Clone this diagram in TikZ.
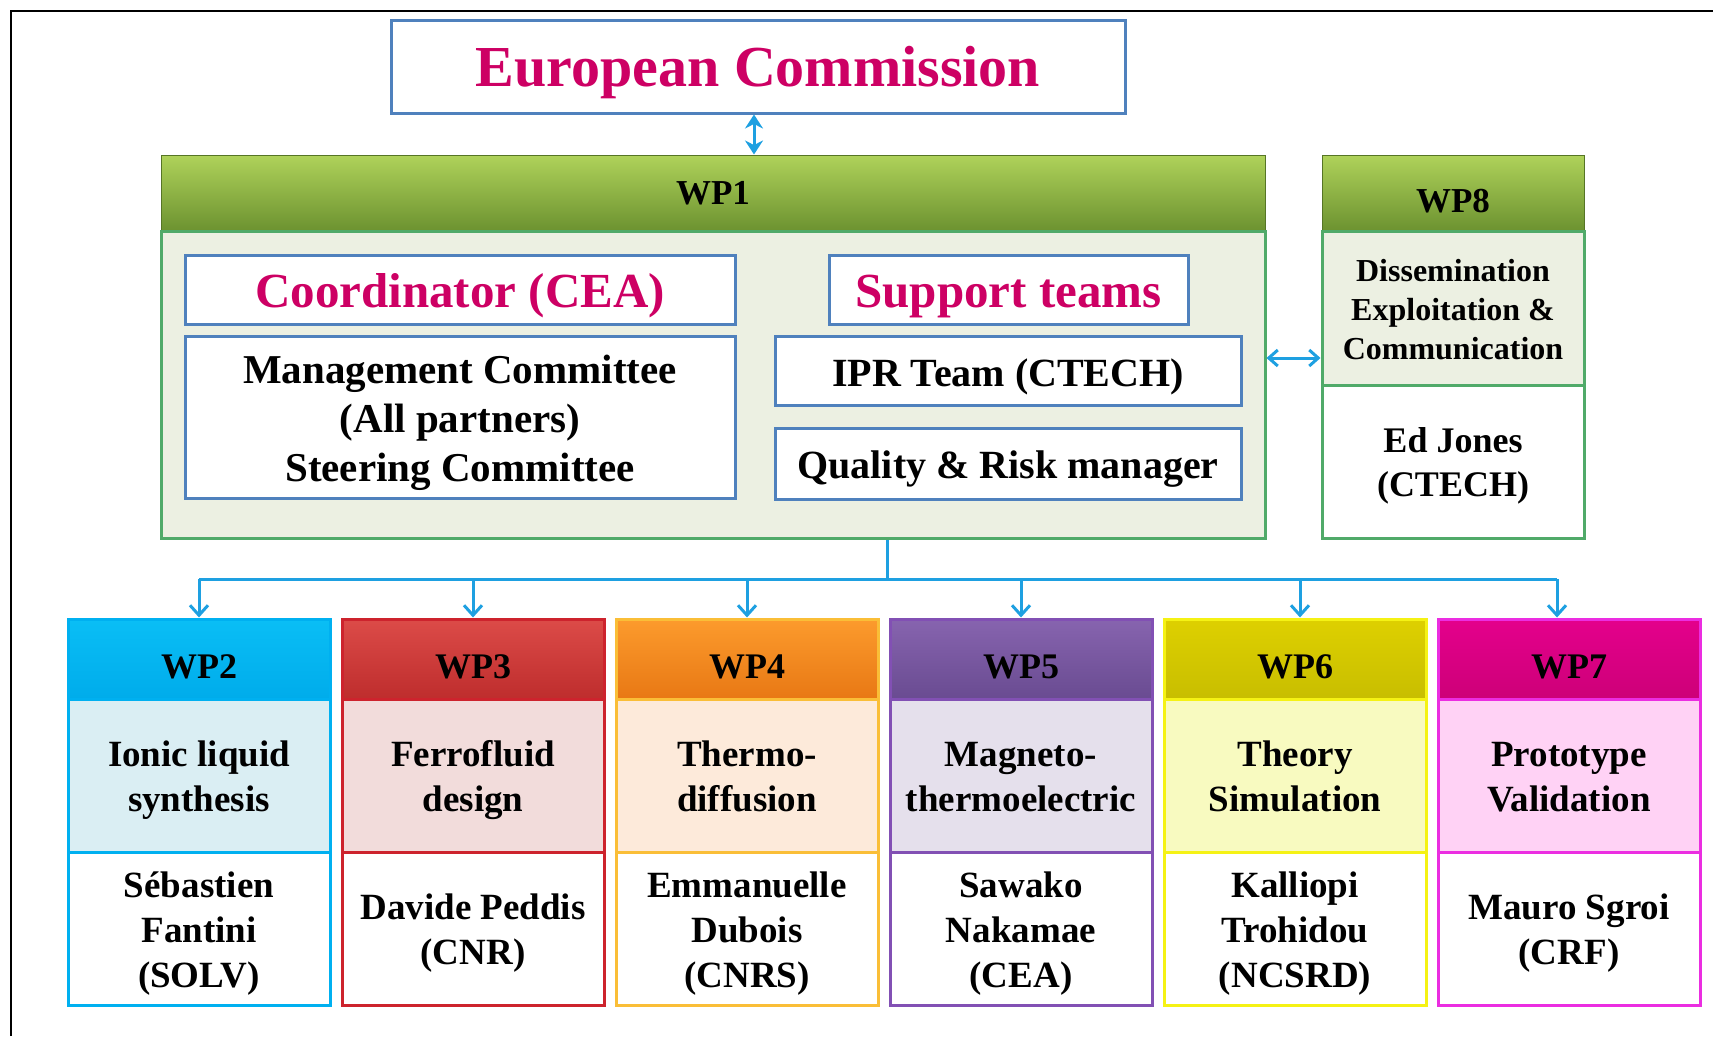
\documentclass[tikz,border=0pt]{standalone}
\usepackage{fontspec}
\setmainfont{Liberation Serif}
\usetikzlibrary{arrows.meta, positioning, calc}

\definecolor{ecred}{RGB}{205,0,100}
\definecolor{boxblue}{RGB}{79,129,189}
\definecolor{linkblue}{RGB}{30,160,225}
\definecolor{wpgreen}{RGB}{80,170,105}
\definecolor{wpbeige}{RGB}{236,240,226}
\definecolor{greentop}{RGB}{175,210,90}
\definecolor{greenbot}{RGB}{108,146,48}
% colonnes WP2..WP7
\definecolor{wp2top}{RGB}{10,190,245}   \definecolor{wp2bot}{RGB}{0,172,235}
\definecolor{wp2line}{RGB}{0,176,240}   \definecolor{wp2fill}{RGB}{218,238,243}
\definecolor{wp3top}{RGB}{220,75,72}    \definecolor{wp3bot}{RGB}{190,45,45}
\definecolor{wp3line}{RGB}{205,35,45}   \definecolor{wp3fill}{RGB}{242,220,219}
\definecolor{wp4top}{RGB}{252,155,45}   \definecolor{wp4bot}{RGB}{232,120,20}
\definecolor{wp4line}{RGB}{250,190,55}  \definecolor{wp4fill}{RGB}{253,234,218}
\definecolor{wp5top}{RGB}{135,100,175}  \definecolor{wp5bot}{RGB}{105,75,145}
\definecolor{wp5line}{RGB}{130,80,180}  \definecolor{wp5fill}{RGB}{229,224,236}
\definecolor{wp6top}{RGB}{222,208,0}    \definecolor{wp6bot}{RGB}{200,190,0}
\definecolor{wp6line}{RGB}{245,242,20}  \definecolor{wp6fill}{RGB}{248,250,192}
\definecolor{wp7top}{RGB}{228,0,140}    \definecolor{wp7bot}{RGB}{205,0,120}
\definecolor{wp7line}{RGB}{235,45,225}  \definecolor{wp7fill}{RGB}{255,210,245}

% premiere ligne un peu plus haute : le texte descend dans la boite
\newcommand{\lowtext}[1][10pt]{\rule{0pt}{\dimexpr0.69em+#1\relax}}

\begin{document}
\begin{tikzpicture}[
  x=1pt, y=-1pt,
  low/.style={execute at begin node={\lowtext[#1]}},
  low/.default=12pt,
  box/.style={rectangle, draw=boxblue, line width=3pt, fill=white,
              inner sep=0pt, align=center},
  title/.style={box, text=ecred, font=\bfseries\fontsize{49}{58}\selectfont, low},
  team/.style={box, font=\bfseries\fontsize{40}{49}\selectfont, low},
  greenhead/.style={rectangle, draw=greenbot!80!black, line width=1pt,
                    top color=greentop, bottom color=greenbot, inner sep=0pt,
                    minimum height=76pt, font=\bfseries\fontsize{35}{42}\selectfont},
  greenbody/.style={rectangle, draw=wpgreen, line width=3pt, inner sep=0pt,
                    align=center},
  wphead/.style={rectangle, draw=#1line, line width=3pt, top color=#1top,
                 bottom color=#1bot, inner sep=0pt, minimum width=262pt,
                 minimum height=80pt, font=\bfseries\fontsize{36}{43}\selectfont, low=14pt},
  wptask/.style={rectangle, draw=#1line, line width=3pt, fill=#1fill,
                 inner sep=0pt, minimum width=262pt, minimum height=153pt, text depth=8pt,
                 align=center, font=\bfseries\fontsize{37}{45}\selectfont},
  wpname/.style={rectangle, draw=#1line, line width=3pt, fill=white,
                 inner sep=0pt, minimum width=262pt, minimum height=153pt, text depth=8pt,
                 align=center, font=\bfseries\fontsize{37}{45}\selectfont},
  link/.style={draw=linkblue, line width=3pt},
  arrow/.style={link, -{Straight Barb[length=10pt, width=18pt]}},
  dbl/.style={link, {Straight Barb[length=9pt, width=16pt]}-{Straight Barb[length=9pt, width=16pt]}},
  dblec/.style={link, {Stealth[length=14pt, width=18pt]}-{Stealth[length=14pt, width=18pt]}},
]
\useasboundingbox (0,0) rectangle (1713,1036);

% ---- cadre ----
\draw[line width=2.5pt] (11,1036) -- (11,11) -- (1713,11);

% ---- Commission ----
\node[box, text=ecred, font=\bfseries\fontsize{58}{70}\selectfont, low,
      minimum width=734pt, minimum height=93pt] (ec) at (758,66.5) {European Commission};

% ---- WP1 ----
\node[greenhead, minimum width=1104pt] (wp1head) at (713,193) {WP1};
\node[greenbody, fill=wpbeige, minimum width=1104pt, minimum height=307pt] (wp1body) at (713,384.5) {};

\node[title, minimum width=550pt, minimum height=69pt] (coord) at (460,289.5) {Coordinator (CEA)};
\node[box, font=\bfseries\fontsize{41}{49}\selectfont,
      minimum width=550pt, minimum height=162pt] (mgmt) at (460,417)
      {\lowtext[11pt]Management Committee\\(All partners)\\Steering Committee};
\node[title, minimum width=359pt, minimum height=69pt] (support) at (1008.5,289.5) {Support teams};
\node[team, minimum width=466pt, minimum height=69pt] (ipr) at (1008,370.5) {IPR Team (CTECH)};
\node[team, minimum width=466pt, minimum height=71pt] (quality) at (1008,463.5) {Quality \& Risk manager};

% ---- WP8 ----
\node[greenhead, minimum width=262pt, low=16pt] (wp8head) at (1453,193) {WP8};
\node[greenbody, fill=wpbeige, minimum width=262pt, minimum height=154pt,
      font=\bfseries\fontsize{32}{39}\selectfont] (wp8task) at (1453,308)
      {\lowtext[4pt]Dissemination\\Exploitation \&\\Communication};
\node[greenbody, fill=white, minimum width=262pt, minimum height=153pt,
      font=\bfseries\fontsize{36}{44}\selectfont] (wp8name) at (1453,461.5)
      {\lowtext[9pt]Ed Jones\\(CTECH)};

% ---- WP2 a WP7 ----
\node[wphead=wp2] (wp2head) at (199,659) {WP2};
\node[wptask=wp2] (wp2task) at (199,775.5) {\lowtext Ionic liquid\\synthesis};
\node[wpname=wp2] (wp2name) at (199,928.5) {\lowtext Sébastien\\Fantini\\(SOLV)};

\node[wphead=wp3] (wp3head) at (473,659) {WP3};
\node[wptask=wp3] (wp3task) at (473,775.5) {\lowtext Ferrofluid\\design};
\node[wpname=wp3] (wp3name) at (473,928.5) {\lowtext Davide Peddis\\(CNR)};

\node[wphead=wp4] (wp4head) at (747,659) {WP4};
\node[wptask=wp4] (wp4task) at (747,775.5) {\lowtext Thermo-\\diffusion};
\node[wpname=wp4] (wp4name) at (747,928.5) {\lowtext Emmanuelle\\Dubois\\(CNRS)};

\node[wphead=wp5] (wp5head) at (1021,659) {WP5};
\node[wptask=wp5] (wp5task) at (1021,775.5) {\lowtext Magneto-\\thermoelectric};
\node[wpname=wp5] (wp5name) at (1021,928.5) {\lowtext Sawako\\Nakamae\\(CEA)};

\node[wphead=wp6] (wp6head) at (1295,659) {WP6};
\node[wptask=wp6] (wp6task) at (1295,775.5) {\lowtext Theory\\Simulation};
\node[wpname=wp6] (wp6name) at (1295,928.5) {\lowtext Kalliopi\\Trohidou\\(NCSRD)};

\node[wphead=wp7] (wp7head) at (1569,659) {WP7};
\node[wptask=wp7] (wp7task) at (1569,775.5) {\lowtext Prototype\\Validation};
\node[wpname=wp7] (wp7name) at (1569,928.5) {\lowtext Mauro Sgroi\\(CRF)};

% ---- liens ----
\coordinate (ecx) at (754,113);
\coordinate (wp8y) at (1265,358);
\coordinate (bus) at (887,579);

\draw[dblec] (ec.south -| ecx) -- (wp1head.north -| ecx);
\draw[dbl] (wp1body.east |- wp8y) -- (wp8task.west |- wp8y);

\draw[link] (wp1body.south -| bus) -- (bus);
\draw[link] (wp2head.north |- bus) -- ([xshift=-12pt]wp7head.north |- bus);
\draw[arrow] (wp2head.north |- bus) -- (wp2head.north);
\draw[arrow] (wp3head.north |- bus) -- (wp3head.north);
\draw[arrow] (wp4head.north |- bus) -- (wp4head.north);
\draw[arrow] (wp5head.north |- bus) -- (wp5head.north);
\draw[arrow] ([xshift=5pt]wp6head.north |- bus) -- ([xshift=5pt]wp6head.north);
\draw[arrow] ([xshift=-12pt]wp7head.north |- bus) -- ([xshift=-12pt]wp7head.north);

\end{tikzpicture}
\end{document}
